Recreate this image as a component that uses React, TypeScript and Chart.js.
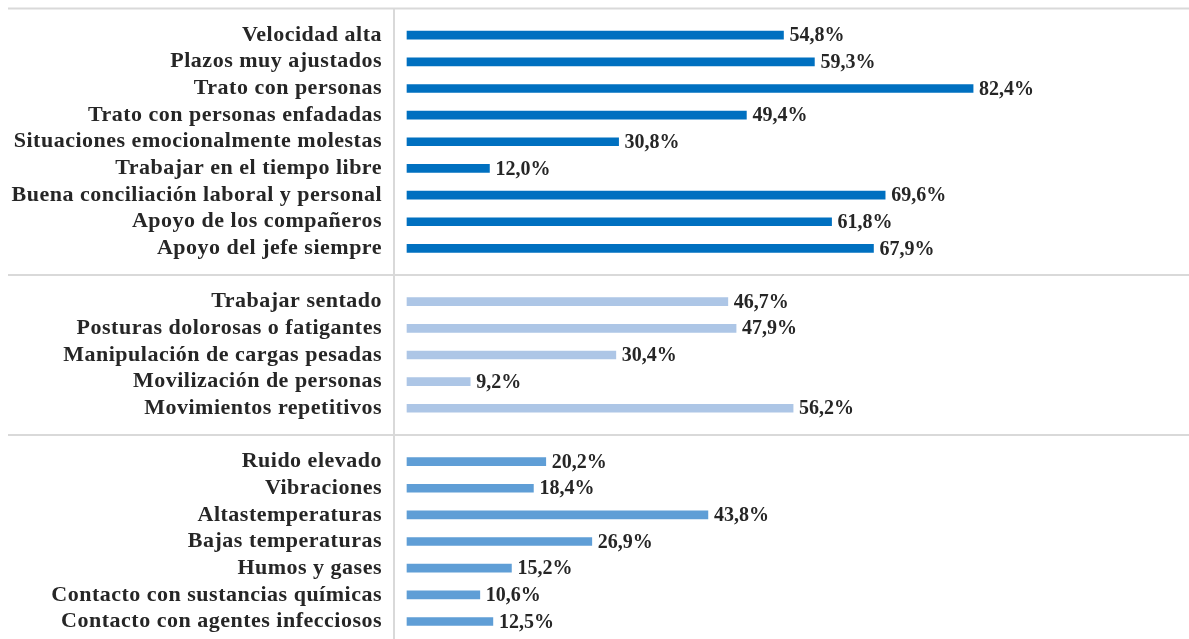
import React, { useEffect, useRef } from "react";
import { Chart, registerables } from "chart.js";

Chart.register(...registerables);

const group1Labels = [
  "Velocidad alta",
  "Plazos muy ajustados",
  "Trato con personas",
  "Trato con personas enfadadas",
  "Situaciones emocionalmente molestas",
  "Trabajar en el tiempo libre",
  "Buena conciliación laboral y personal",
  "Apoyo de los compañeros",
  "Apoyo del jefe siempre",
];
const group1Values = [54.8, 59.3, 82.4, 49.4, 30.8, 12.0, 69.6, 61.8, 67.9];

const group2Labels = [
  "Trabajar sentado",
  "Posturas dolorosas o fatigantes",
  "Manipulación de cargas pesadas",
  "Movilización de personas",
  "Movimientos repetitivos",
];
const group2Values = [46.7, 47.9, 30.4, 9.2, 56.2];

const group3Labels = [
  "Ruido elevado",
  "Vibraciones",
  "Altastemperaturas",
  "Bajas temperaturas",
  "Humos y gases",
  "Contacto con sustancias químicas",
  "Contacto con agentes infecciosos",
];
const group3Values = [20.2, 18.4, 43.8, 26.9, 15.2, 10.6, 12.5];

const groupColors = ["#0070C0", "#ADC6E6", "#5F9ED6"];

const FONT = '"Liberation Serif", "Times New Roman", serif';
const TEXT_COLOR = "#262626";
const LINE_COLOR = "#D9D9D9";

export default function App() {
  const ref = useRef<HTMLCanvasElement | null>(null);

  useEffect(() => {
    if (!ref.current) return;
    const groups = [
      [group1Labels, group1Values],
      [group2Labels, group2Values],
      [group3Labels, group3Values],
    ] as [string[], number[]][];
    const labels: string[] = [];
    const values: (number | null)[] = [];
    const colors: string[] = [];
    const separators: number[] = [];
    groups.forEach(([ls, vs], gi) => {
      separators.push(labels.length);
      labels.push("");
      values.push(null);
      colors.push("transparent");
      ls.forEach((l, i) => {
        labels.push(l);
        values.push(vs[i]);
        colors.push(groupColors[gi]);
      });
    });

    const decor = {
      id: "decor",
      beforeDraw(chart: any) {
        (chart.ctx as any).letterSpacing = "0.5px";
      },
      afterDraw(chart: any) {
        (chart.ctx as any).letterSpacing = "0px";
      },
      beforeDatasetsDraw(chart: any) {
        const ctx = chart.ctx;
        (ctx as any).letterSpacing = "0px";
        const y = chart.scales.y;
        const x = chart.scales.x;
        ctx.save();
        ctx.strokeStyle = LINE_COLOR;
        ctx.lineWidth = 2;
        separators.forEach((idx) => {
          const py = y.getPixelForValue(idx);
          ctx.beginPath();
          ctx.moveTo(8, py);
          ctx.lineTo(chart.width, py);
          ctx.stroke();
        });
        const vx = x.left - 13;
        ctx.beginPath();
        ctx.moveTo(vx, y.getPixelForValue(0));
        ctx.lineTo(vx, chart.height);
        ctx.stroke();
        ctx.restore();
      },
      afterDatasetsDraw(chart: any) {
        const ctx = chart.ctx;
        const meta = chart.getDatasetMeta(0);
        ctx.save();
        (ctx as any).letterSpacing = "0px";
        ctx.fillStyle = TEXT_COLOR;
        ctx.font = `bold 20px ${FONT}`;
        ctx.textAlign = "left";
        ctx.textBaseline = "middle";
        meta.data.forEach((bar: any, i: number) => {
          const v = values[i];
          if (v == null) return;
          const txt = v.toFixed(1).replace(".", ",") + "%";
          ctx.fillText(txt, bar.x + 6, bar.y + 1);
        });
        ctx.restore();
      },
    };

    const chart = new Chart(ref.current, {
      type: "bar",
      data: {
        labels,
        datasets: [
          {
            data: values,
            backgroundColor: colors,
            barThickness: 8,
            clip: false as any,
          },
        ],
      },
      options: {
        indexAxis: "y",
        animation: false,
        responsive: false,
        maintainAspectRatio: false,
        layout: { padding: { top: 8.5, bottom: 17.5, left: 0, right: 95 } },
        plugins: {
          legend: { display: false },
          tooltip: { enabled: false },
        },
        scales: {
          x: {
            display: false,
            min: 0,
            max: 100,
          },
          y: {
            offset: false,
            grid: { display: false, drawTicks: false },
            border: { display: false },
            ticks: {
              autoSkip: false,
              padding: 25,
              color: TEXT_COLOR,
              font: { family: FONT, size: 22, weight: "bold" },
            },
            afterFit(scale: any) {
              scale.width = 407;
              scale.paddingTop = 0;
              scale.paddingBottom = 0;
            },
          },
        },
      },
      plugins: [decor],
    });
    return () => chart.destroy();
  }, []);

  return (
    <div style={{ position: "fixed", left: 0, top: 0, width: 1189, height: 639, background: "#fff" }}>
      <canvas ref={ref} width={1189} height={639} style={{ width: 1189, height: 639, display: "block" }} />
    </div>
  );
}
